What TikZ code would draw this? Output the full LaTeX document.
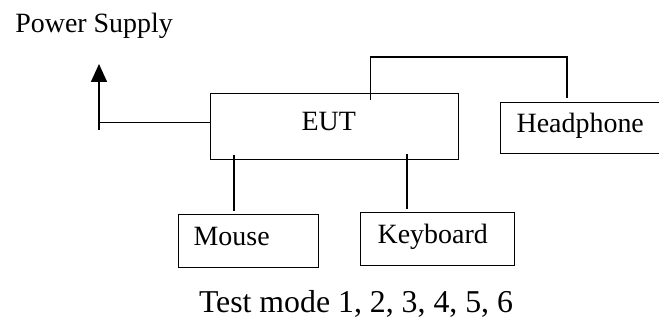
\documentclass[tikz,border=0pt]{standalone}
\usepackage{fontspec}
\setmainfont{Liberation Serif}
\usetikzlibrary{positioning,calc,arrows.meta}

\begin{document}
\begin{tikzpicture}[
        x=0.02cm, y=-0.02cm,
        boxtext/.style={font=\fontsize{15.9pt}{18pt}\selectfont},
        unit/.style={draw, line width=0.75pt, anchor=north west, align=left, boxtext,
          inner ysep=0pt, text height=0.683em, text depth=0.218em},
        wire/.style={line width=0.9pt}
      ]
      \useasboundingbox (0,0) rectangle (659,320);

      \node (eut) [unit, inner xsep=1.82cm, text width=1.32cm, minimum height=1.32cm] at (210,93) {EUT};
      \node (hp) [unit, inner xsep=0.32cm, text width=2.76cm, minimum height=1.02cm] at (500,102) {Headphone};
      \node (ms) [unit, inner xsep=0.30cm, text width=2.20cm, minimum height=1.06cm] at (178,214) {Mouse};
      \node (kb) [unit, inner xsep=0.34cm, text width=2.40cm, minimum height=1.06cm] at (360,212) {Keyboard};
      \node (pst) [boxtext, anchor=base west, inner sep=0pt] at (15,33) {Power Supply};
      \node (tm) [font=\fontsize{18.1pt}{20pt}\selectfont, anchor=base, inner sep=0pt] at (356,313) {Test mode 1, 2, 3, 4, 5, 6};

      \coordinate (ps) at (99,64);
      \coordinate (psb) at (99,130);
      \coordinate (eutp) at ([yshift=0.08cm]eut.west);

      \draw[wire, -{Triangle[width=0.32cm, length=0.36cm]}] (psb) -- (ps);
      \draw[wire] (eutp) -- (ps |- eutp);
      \draw[wire] ([shift={(0.72cm,-0.14cm)}]eut.north) -- ++(0,-43) -| ([shift={(1.34cm,0.08cm)}]hp.north west);
      \draw[wire] ([shift={(1.12cm,0.06cm)}]ms.north west) -- ++(0,-56);
      \draw[wire] ([shift={(0.94cm,0.06cm)}]kb.north west) -- ++(0,-55);

    \end{tikzpicture}
\end{document}
